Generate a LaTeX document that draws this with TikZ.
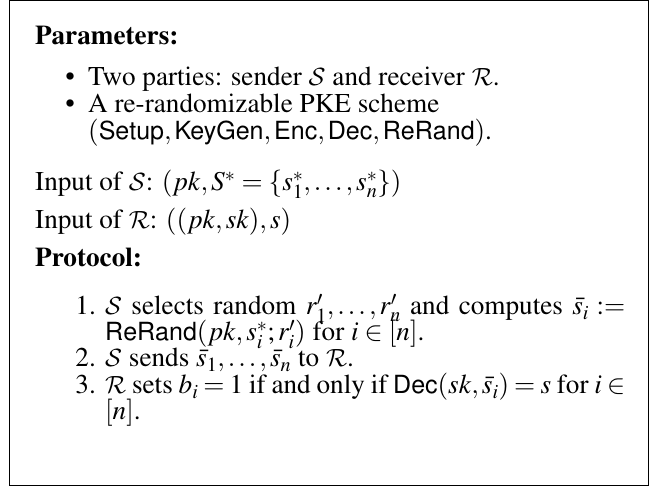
\documentclass[tikz,border=0pt]{standalone}
\usepackage[T1]{fontenc}
\usepackage{mathptmx}
\usepackage[scaled=0.92]{helvet}
\usepackage{amsmath}
\DeclareMathAlphabet{\mathcalcm}{OMS}{cmsy}{m}{n}
\newcommand{\pS}{\mathcalcm{S}}
\newcommand{\pR}{\mathcalcm{R}}
\tikzset{
  txt/.style={anchor=base west, inner sep=0pt, font=\fontsize{27.2}{26.7}\selectfont},
  lab/.style={anchor=base east, inner sep=0pt, font=\fontsize{27.2}{26.7}\selectfont},
  frame/.style={draw=black, line width=1.3pt}
}
\begin{document}
\begin{tikzpicture}[x=1pt,y=-1pt]
\useasboundingbox (0,0) rectangle (654,486);
\draw[frame] (9.5,0.8) rectangle (648.5,485.2);
\node[txt] (par) at (35,45) {\textbf{Parameters:}};
\node[lab] (b1) at (75,86) {\textbullet};
\node[txt] (t1) at (88,86) {Two parties: sender $\pS$ and receiver $\pR$.};
\node[lab] (b2) at (75,113) {\textbullet};
\node[txt] (t2) at (88,113) {A re-randomizable PKE scheme};
\node[txt] (t3) at (88,140) {$(\textsf{Setup},\textsf{KeyGen},\textsf{Enc},\textsf{Dec},\textsf{ReRand})$.};
\node[txt] (ins) at (35,191) {Input of $\pS$: $(pk,S^*=\{s_1^*,\ldots,s_n^*\})$};
\node[txt] (inr) at (35,229) {Input of $\pR$: $((pk,sk),s)$};
\node[txt] (prot) at (35,267) {\textbf{Protocol:}};
\node[lab] (e1) at (96,315) {1.};
\node[txt] (l1a) at (105,315) {\makebox[520pt][s]{$\pS$ selects random $r'_1,\ldots,r'_n$ and computes $\bar{s}_i:=$}};
\node[txt] (l1b) at (105,341) {$\textsf{ReRand}(pk,s_i^*;r'_i)$ for $i\in[n]$.};
\node[lab] (e2) at (96,367) {2.};
\node[txt] (l2) at (105,367) {$\pS$ sends $\bar{s}_1,\ldots,\bar{s}_n$ to $\pR$.};
\node[lab] (e3) at (96,394) {3.};
\node[txt] (l3a) at (105,394) {\makebox[520pt][s]{$\pR$ sets $b_i=1$ if and only if $\textsf{Dec}(sk,\bar{s}_i)=s$ for $i\in$}};
\node[txt] (l3b) at (105,420) {$[n]$.};
\end{tikzpicture}
\end{document}
